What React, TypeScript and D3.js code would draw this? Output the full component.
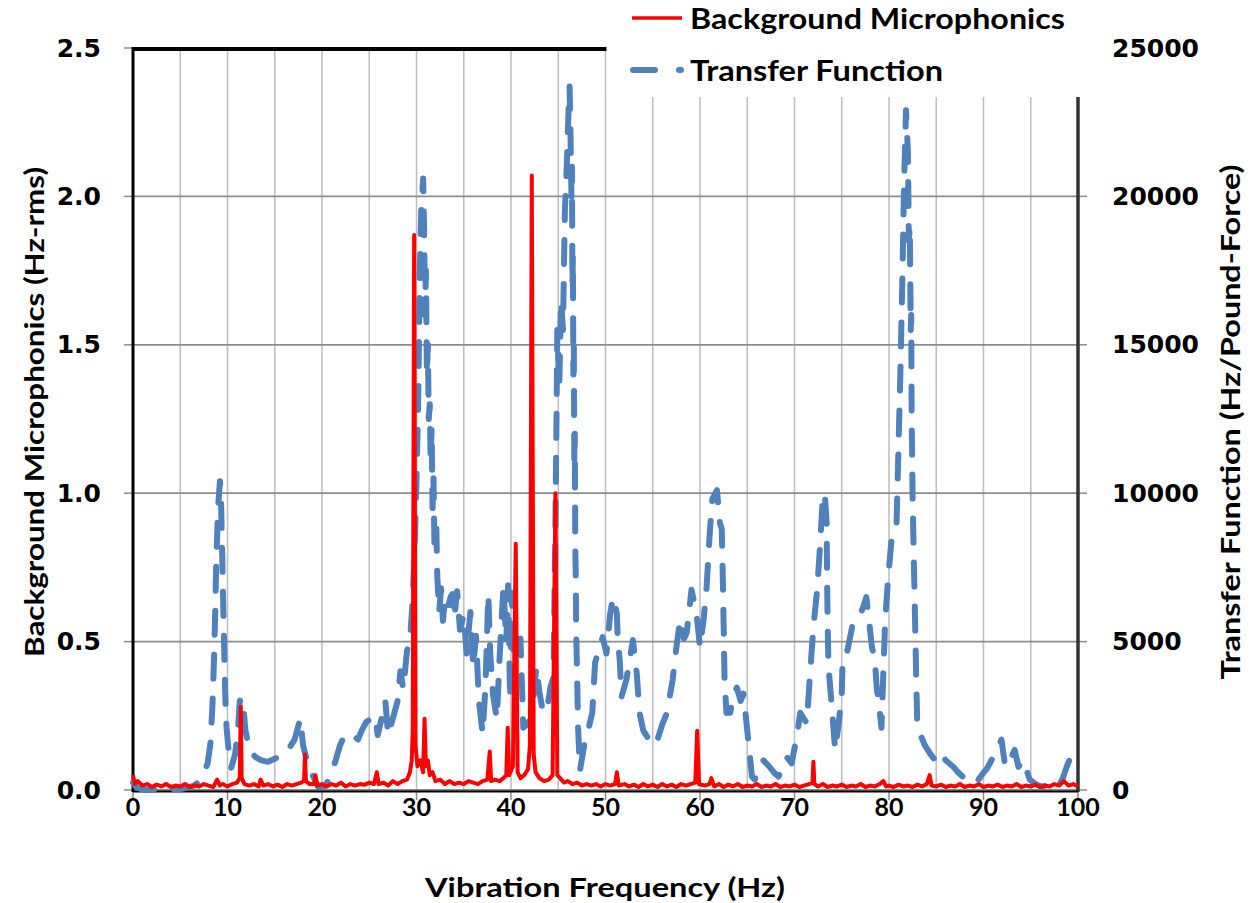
import React from "react";
import * as d3 from "d3";

const xTicks = [0, 10, 20, 30, 40, 50, 60, 70, 80, 90, 100];
const xGrid = [5, 10, 15, 20, 25, 30, 35, 40, 45, 50, 55, 60, 65, 70, 75, 80, 85, 90, 95, 100];
const yLeftTicks = [0, 0.5, 1.0, 1.5, 2.0, 2.5];
const yRightTicks = [0, 5000, 10000, 15000, 20000, 25000];

const seriesNames = ["Background Microphonics", "Transfer Function"];

// Background microphonics (Hz-rms) vs frequency (Hz)
const micData: [number, number][] = [
  [0, 0.05], [0.2, 0.02], [0.5, 0.03], [1, 0.015], [1.5, 0.02], [2, 0.01], [2.5, 0.018], [3, 0.012], [3.5, 0.02],
  [4, 0.01], [4.5, 0.015], [5, 0.012], [5.5, 0.02], [6, 0.01], [6.5, 0.016], [7, 0.012], [7.5, 0.02], [8, 0.015],
  [8.5, 0.01], [8.9, 0.035], [9.2, 0.015], [9.5, 0.02], [10, 0.012], [10.5, 0.02], [11, 0.025], [11.3, 0.04],
  [11.4, 0.28], [11.5, 0.04], [11.8, 0.02], [12.3, 0.015], [12.8, 0.02], [13.3, 0.012], [13.5, 0.035], [13.8, 0.015],
  [14.3, 0.02], [14.8, 0.012], [15.3, 0.018], [15.8, 0.01], [16.3, 0.02], [16.8, 0.015], [17.3, 0.02], [17.8, 0.025],
  [18.1, 0.03], [18.2, 0.12], [18.3, 0.03], [18.7, 0.02], [19.2, 0.02], [19.3, 0.05], [19.5, 0.015], [20, 0.02],
  [20.5, 0.012], [21, 0.02], [21.5, 0.015], [22, 0.025], [22.5, 0.012], [23, 0.02], [23.5, 0.015], [24, 0.02],
  [24.5, 0.018], [25, 0.025], [25.5, 0.02], [25.8, 0.06], [26, 0.02], [26.5, 0.025], [27, 0.015], [27.5, 0.03],
  [28, 0.02], [28.5, 0.03], [29, 0.035], [29.3, 0.06], [29.5, 0.1], [29.6, 0.2], [29.75, 1.87], [29.9, 0.15],
  [30.1, 0.08], [30.4, 0.1], [30.7, 0.06], [30.85, 0.24], [31, 0.08], [31.2, 0.1], [31.4, 0.05], [31.7, 0.06],
  [32, 0.03], [32.5, 0.035], [33, 0.02], [33.5, 0.03], [34, 0.02], [34.5, 0.025], [35, 0.02], [35.5, 0.03],
  [36, 0.025], [36.5, 0.02], [37, 0.03], [37.5, 0.035], [37.75, 0.13], [37.9, 0.03], [38.3, 0.035], [38.8, 0.03],
  [39.2, 0.04], [39.5, 0.05], [39.65, 0.21], [39.8, 0.05], [40.2, 0.08], [40.5, 0.83], [40.7, 0.06], [41, 0.04],
  [41.4, 0.05], [41.8, 0.07], [42.0, 0.15], [42.2, 2.07], [42.4, 0.12], [42.6, 0.06], [43, 0.04], [43.5, 0.03],
  [44, 0.035], [44.4, 0.05], [44.7, 1.0], [44.9, 0.05], [45.2, 0.04], [45.6, 0.025], [46, 0.03], [46.5, 0.02],
  [47, 0.025], [47.5, 0.015], [48, 0.02], [48.5, 0.015], [49, 0.02], [49.5, 0.012], [50, 0.02], [50.5, 0.015],
  [51, 0.02], [51.2, 0.06], [51.4, 0.015], [52, 0.02], [52.5, 0.012], [53, 0.018], [53.5, 0.01], [54, 0.02],
  [54.5, 0.012], [55, 0.018], [55.5, 0.01], [56, 0.02], [56.5, 0.012], [57, 0.018], [57.5, 0.01], [58, 0.02],
  [58.5, 0.015], [59, 0.02], [59.5, 0.025], [59.7, 0.2], [59.9, 0.02], [60.5, 0.015], [61, 0.02], [61.2, 0.04],
  [61.5, 0.012], [62, 0.02], [62.5, 0.01], [63, 0.018], [63.5, 0.012], [64, 0.02], [64.5, 0.01], [65, 0.015],
  [65.5, 0.012], [66, 0.02], [66.5, 0.01], [67, 0.015], [67.5, 0.012], [68, 0.02], [68.5, 0.01], [69, 0.015],
  [69.5, 0.012], [70, 0.018], [70.5, 0.01], [71, 0.015], [71.5, 0.02], [71.9, 0.025], [72.0, 0.095], [72.1, 0.02],
  [72.5, 0.012], [73, 0.02], [73.5, 0.01], [74, 0.015], [74.5, 0.012], [75, 0.018], [75.5, 0.01], [76, 0.015],
  [76.5, 0.012], [77, 0.02], [77.5, 0.01], [78, 0.015], [78.5, 0.012], [79, 0.02], [79.4, 0.03], [79.7, 0.012],
  [80, 0.015], [80.5, 0.01], [81, 0.018], [81.5, 0.012], [82, 0.015], [82.5, 0.01], [83, 0.018], [83.5, 0.012],
  [84, 0.02], [84.3, 0.05], [84.5, 0.015], [85, 0.012], [85.5, 0.018], [86, 0.01], [86.5, 0.015], [87, 0.012],
  [87.5, 0.02], [88, 0.01], [88.5, 0.015], [89, 0.012], [89.5, 0.02], [90, 0.01], [90.5, 0.015], [91, 0.012],
  [91.5, 0.018], [92, 0.01], [92.5, 0.015], [93, 0.012], [93.5, 0.02], [94, 0.01], [94.5, 0.015], [95, 0.012],
  [95.5, 0.018], [96, 0.01], [96.5, 0.015], [97, 0.012], [97.5, 0.02], [98, 0.015], [98.5, 0.03], [99, 0.015],
  [99.5, 0.02], [100, 0.012],
];

// Transfer function (Hz / pound-force) vs frequency (Hz)
const tfData: [number, number][] = [
  [0, 250], [0.4, 80], [0.9, 30], [1.5, 0], [2.2, 20], [3.0, 10], [3.8, 0], [4.5, 20], [5.5, 60], [6.5, 150],
  [7.0, 300], [7.4, 500], [7.9, 900], [8.2, 1600], [8.4, 2800], [8.5, 3700], [8.6, 4700], [8.7, 6000], [8.8, 7500],
  [8.9, 8500], [9.0, 9500], [9.2, 10400], [9.3, 10000], [9.4, 8500], [9.5, 7000], [9.6, 5500], [9.7, 4000],
  [9.8, 2800], [9.9, 2100], [10.1, 1400], [10.4, 750], [10.8, 1200], [11.1, 2000], [11.3, 3000], [11.6, 3100],
  [11.9, 2000], [12.1, 1700], [12.4, 1300], [13.0, 1100], [13.6, 1000], [14.3, 950], [15.0, 1050], [15.3, 1100],
  [15.9, 1150], [16.5, 1400], [17.1, 1700], [17.7, 2400], [18.0, 1500], [18.4, 1000], [19.0, 500], [19.6, 100],
  [20.3, 130], [20.8, 400], [21.4, 950], [21.9, 1500], [22.4, 1850], [23.2, 1900], [23.8, 1700], [24.2, 2000],
  [24.7, 2300], [25.2, 2400], [25.6, 2500], [25.9, 1850], [26.3, 2400], [26.7, 3000], [27.0, 1850], [27.4, 2300],
  [28.0, 3000], [28.3, 4000], [28.6, 3400], [29.0, 4700], [29.3, 5000], [29.6, 6400], [29.8, 8100], [30.0, 10400],
  [30.2, 13500], [30.35, 17500], [30.5, 19500], [30.7, 20600], [30.8, 19000], [30.9, 16000], [31.0, 17500],
  [31.1, 14000], [31.2, 15000], [31.3, 12500], [31.4, 13000], [31.5, 11000], [31.6, 12200], [31.7, 9500],
  [31.8, 10500], [31.9, 8200], [32.1, 8800], [32.2, 7200], [32.4, 6000], [32.6, 6800], [32.8, 5700], [33.0, 6400],
  [33.3, 6100], [33.6, 6500], [33.8, 6600], [34.0, 5800], [34.3, 6700], [34.6, 5400], [35.0, 5900], [35.3, 4600],
  [35.7, 6000], [36.0, 4150], [36.3, 5200], [36.6, 3000], [37.0, 1900], [37.3, 3500], [37.6, 6600], [37.8, 4600],
  [38.1, 3200], [38.5, 2400], [38.8, 4500], [39.2, 6850], [39.5, 5000], [39.7, 6900], [39.9, 3050], [40.1, 6650],
  [40.3, 4500], [40.6, 5050], [41.0, 5100], [41.3, 2100], [41.7, 2200], [42.2, 2450], [42.5, 3600], [42.7, 4150],
  [43.0, 3300], [43.4, 2600], [43.9, 2900], [44.2, 3500], [44.5, 3800], [44.6, 6500], [44.7, 9000], [44.8, 12000],
  [44.9, 15500], [45.1, 13500], [45.3, 16500], [45.5, 15500], [45.7, 19500], [45.9, 21000], [46.1, 23000],
  [46.2, 23700], [46.3, 22000], [46.4, 20000], [46.45, 21000], [46.5, 17000], [46.55, 18000], [46.6, 14000],
  [46.65, 15000], [46.7, 11000], [46.75, 12000], [46.8, 8200], [46.85, 7300], [46.9, 5300], [47.0, 3800],
  [47.1, 2100], [47.3, 670], [47.8, 1600], [48.3, 2200], [48.6, 2600], [48.9, 4300], [49.3, 4700], [49.7, 5150],
  [50.1, 4600], [50.5, 5950], [50.8, 6500], [51.2, 5950], [51.3, 5050], [51.5, 4400], [51.7, 3150], [52.2, 3700],
  [52.9, 5050], [53.3, 3950], [53.6, 2600], [54.0, 2000], [54.4, 1800], [55.0, 1500], [55.4, 1600], [56.0, 2200],
  [56.5, 2600], [57.1, 3700], [57.5, 4800], [57.9, 5750], [58.3, 5100], [58.6, 5300], [59.1, 6750], [59.4, 6300],
  [59.7, 5750], [60.0, 4800], [60.4, 5800], [60.7, 6850], [61.0, 8500], [61.3, 9800], [61.8, 10100], [62.1, 9000],
  [62.3, 8800], [62.4, 7400], [62.5, 5600], [62.6, 3700], [62.8, 2600], [63.2, 2600], [63.5, 3200], [63.9, 3450],
  [64.3, 3000], [64.6, 3250], [65.1, 1700], [65.5, 450], [65.8, 350], [66.2, 700], [66.7, 1000], [67.3, 800],
  [67.8, 600], [68.3, 450], [68.8, 800], [69.2, 1100], [69.7, 900], [70.3, 1900], [70.6, 2600], [71.0, 2400],
  [71.3, 2250], [71.6, 3700], [72.0, 5500], [72.4, 6750], [72.7, 8200], [73.0, 9900], [73.2, 10000], [73.4, 9000],
  [73.45, 7100], [73.5, 5750], [73.6, 4150], [74.0, 2600], [74.3, 1350], [74.7, 2300], [75.0, 3250], [75.1, 4500],
  [75.6, 4700], [76.2, 5650], [76.9, 5850], [77.3, 6200], [77.6, 6500], [77.8, 5950], [78.2, 4800], [78.5, 4400],
  [78.7, 3450], [79.0, 2700], [79.2, 2100], [79.4, 3950], [79.6, 5750], [79.9, 7100], [80.3, 8550], [80.8, 9000],
  [81.0, 11500], [81.2, 14000], [81.4, 17000], [81.6, 20500], [81.8, 22900], [82.0, 21500], [82.1, 18500],
  [82.2, 19000], [82.3, 15500], [82.35, 16000], [82.4, 12500], [82.5, 9800], [82.6, 8200], [82.7, 6650],
  [82.8, 5050], [82.9, 3450], [83.0, 2100], [83.8, 1500], [84.4, 1200], [84.9, 1000], [85.4, 1250], [86.0, 1000],
  [86.8, 780], [87.3, 600], [87.8, 450], [88.6, 230], [89.3, 270], [89.8, 500], [90.4, 740], [91.0, 1100],
  [91.5, 1400], [91.9, 1700], [92.3, 780], [92.8, 1000], [93.3, 1350], [93.7, 780], [94.2, 1000], [94.9, 350],
  [95.5, 200], [96.2, 100], [97.0, 230], [97.5, 150], [97.9, 100], [98.4, 400], [98.8, 780], [99.2, 1100],
  [99.5, 1350], [100, 1300],
];

const W = 1256;
const H = 903;
const L = 133;
const R = 1078;
const T = 48;
const B = 790;

export default function App() {
  const x = d3.scaleLinear().domain([0, 100]).range([L, R]);
  const yL = d3.scaleLinear().domain([0, 2.5]).range([B, T]);
  const yR = d3.scaleLinear().domain([0, 25000]).range([B, T]);

  const micLine = d3.line<[number, number]>().x((d) => x(d[0])).y((d) => yL(d[1]));
  const tfLine = d3.line<[number, number]>().x((d) => x(d[0])).y((d) => yR(d[1]));

  const calibri = "Lato, 'Open Sans', sans-serif";
  const verdana = "'DejaVu Sans', Verdana, sans-serif";

  return (
    <svg
      width={W}
      height={H}
      style={{ position: "absolute", left: 0, top: 0, background: "#fff" }}
    >
      <rect x={0} y={0} width={W} height={H} fill="#fff" />
      {/* vertical gridlines */}
      {xGrid.map((v) => (
        <line key={"vg" + v} x1={x(v)} x2={x(v)} y1={T} y2={B} stroke="#bfbfbf" strokeWidth={1.6} />
      ))}
      {/* horizontal gridlines */}
      {yLeftTicks.map((v) => (
        <line key={"hg" + v} x1={L} x2={R} y1={yL(v)} y2={yL(v)} stroke="#8c8c8c" strokeWidth={1.8} />
      ))}
      {/* left ticks */}
      {yLeftTicks.map((v) => (
        <line key={"lt" + v} x1={L - 9} x2={L} y1={yL(v)} y2={yL(v)} stroke="#8c8c8c" strokeWidth={1.5} />
      ))}
      {/* right ticks */}
      {yRightTicks.map((v) => (
        <line key={"rt" + v} x1={R} x2={R + 9} y1={yR(v)} y2={yR(v)} stroke="#8c8c8c" strokeWidth={1.5} />
      ))}
      {/* bottom ticks */}
      {xTicks.map((v) => (
        <line key={"bt" + v} x1={x(v)} x2={x(v)} y1={B} y2={B + 10} stroke="#8c8c8c" strokeWidth={1.5} />
      ))}
      {/* frame */}
      <line x1={L} x2={R} y1={T + 1} y2={T + 1} stroke="#000" strokeWidth={4} />
      <line x1={R} x2={R} y1={T} y2={B + 2} stroke="#333" strokeWidth={3.5} />
      <line x1={L} x2={L} y1={T - 1} y2={B + 2} stroke="#000" strokeWidth={3} />
      <line x1={L} x2={R} y1={B + 1.5} y2={B + 1.5} stroke="#000" strokeWidth={2} />

      {/* legend background */}
      <rect x={x(50) + 1} y={0} width={W - x(50) - 1} height={97} fill="#fff" />

      {/* series */}
      <path
        d={tfLine(tfData) || ""}
        fill="none"
        stroke="#4f81bd"
        strokeWidth={6}
        strokeDasharray="24 20"
        strokeLinecap="round"
        strokeLinejoin="round"
      />
      <path
        d={micLine(micData) || ""}
        fill="none"
        stroke="#ff0000"
        strokeWidth={4}
        strokeLinejoin="round"
      />

      {/* left tick labels */}
      {yLeftTicks.map((v) => (
        <text
          key={"ll" + v}
          x={101}
          y={yL(v)}
          textAnchor="end"
          dominantBaseline="central"
          fontFamily={verdana}
          fontWeight="bold"
          fontSize={25}
          fill="#000"
        >
          {d3.format(".1f")(v)}
        </text>
      ))}
      {/* right tick labels */}
      {yRightTicks.map((v) => (
        <text
          key={"rl" + v}
          x={1112}
          y={yR(v)}
          textAnchor="start"
          dominantBaseline="central"
          fontFamily={verdana}
          fontWeight="bold"
          fontSize={25}
          fill="#000"
        >
          {String(v)}
        </text>
      ))}
      {/* bottom tick labels */}
      {xTicks.map((v) => (
        <text
          key={"xl" + v}
          x={x(v)}
          y={806}
          textAnchor="middle"
          dominantBaseline="central"
          fontFamily={calibri}
          fontWeight="bold"
          fontSize={25}
          fill="#000"
        >
          {String(v)}
        </text>
      ))}

      {/* axis titles */}
      <text
        x={605}
        y={886}
        textAnchor="middle"
        dominantBaseline="central"
        fontFamily={calibri}
        fontWeight="bold"
        fontSize={27}
        textLength={360}
        lengthAdjust="spacingAndGlyphs"
      >
        Vibration Frequency (Hz)
      </text>
      <text
        transform={`translate(33,${412}) rotate(-90)`}
        textAnchor="middle"
        dominantBaseline="central"
        fontFamily={calibri}
        fontWeight="bold"
        fontSize={27}
        textLength={490}
        lengthAdjust="spacingAndGlyphs"
      >
        Background Microphonics (Hz-rms)
      </text>
      <text
        transform={`translate(1229,${422}) rotate(-90)`}
        textAnchor="middle"
        dominantBaseline="central"
        fontFamily={calibri}
        fontWeight="bold"
        fontSize={27}
        textLength={515}
        lengthAdjust="spacingAndGlyphs"
      >
        Transfer Function (Hz/Pound-Force)
      </text>

      {/* legend */}
      <line x1={632} x2={682} y1={18} y2={18} stroke="#ff0000" strokeWidth={3.5} />
      <text
        x={690}
        y={18}
        dominantBaseline="central"
        fontFamily={calibri}
        fontWeight="bold"
        fontSize={28}
        textLength={375}
        lengthAdjust="spacingAndGlyphs"
      >
        {seriesNames[0]}
      </text>
      <line
        x1={633}
        x2={681}
        y1={70}
        y2={70}
        stroke="#4f81bd"
        strokeWidth={6}
        strokeDasharray="22 24"
        strokeLinecap="round"
      />
      <text
        x={690}
        y={70}
        dominantBaseline="central"
        fontFamily={calibri}
        fontWeight="bold"
        fontSize={28}
        textLength={253}
        lengthAdjust="spacingAndGlyphs"
      >
        {seriesNames[1]}
      </text>
    </svg>
  );
}
